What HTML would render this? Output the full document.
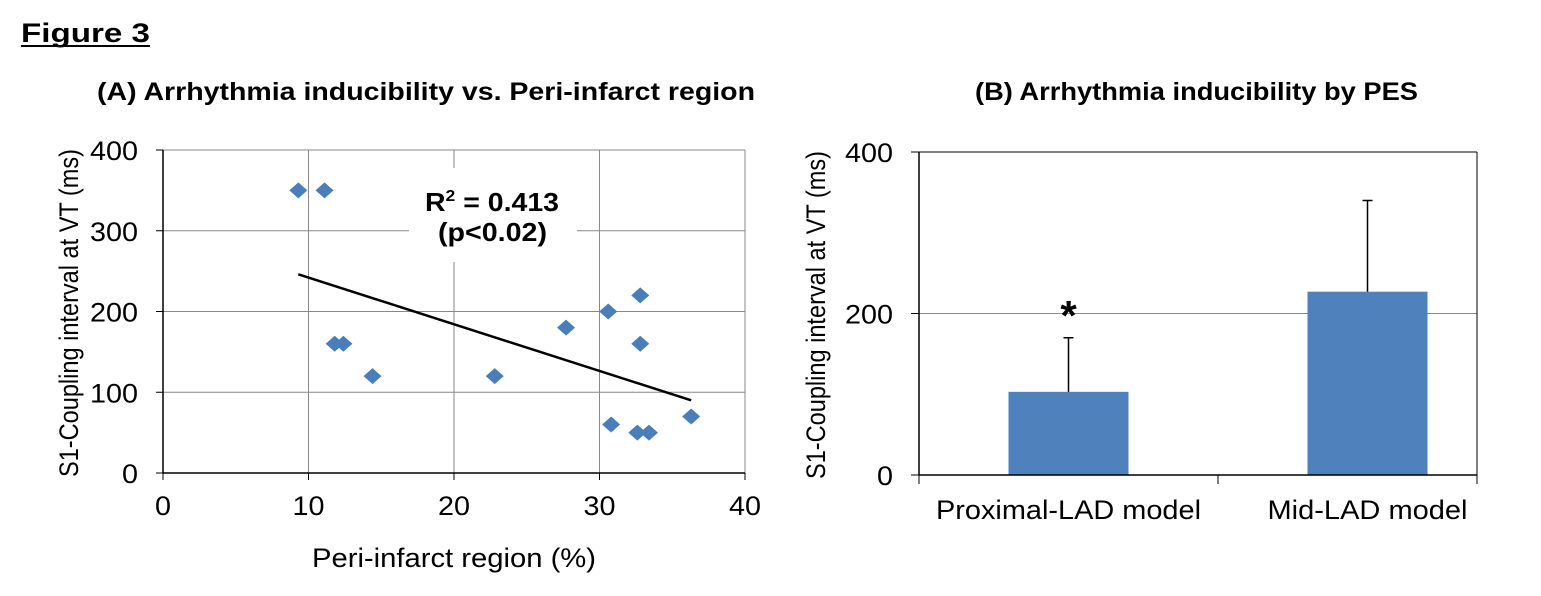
<!DOCTYPE html>
<html><head><meta charset="utf-8"><style>
body{margin:0;background:#fff;}
svg text{font-family:"Liberation Sans",Arial,sans-serif;}
</style></head><body>
<svg width="1541" height="591" xmlns="http://www.w3.org/2000/svg">
<text x="21" y="42" font-size="27" font-weight="bold" textLength="129" lengthAdjust="spacingAndGlyphs">Figure 3</text>
<line x1="21" y1="46" x2="150" y2="46" stroke="#000" stroke-width="2"/>
<text x="97" y="100" font-size="25" font-weight="bold" textLength="658" lengthAdjust="spacingAndGlyphs">(A) Arrhythmia  inducibility vs. Peri-infarct region</text>
<text x="975" y="100" font-size="25" font-weight="bold" textLength="443" lengthAdjust="spacingAndGlyphs">(B) Arrhythmia  inducibility by PES</text>
<g id="A"></g><g id="B"></g>
</svg>
<script>
const NS="http://www.w3.org/2000/svg";
function mk(p,t,a){const e=document.createElementNS(NS,t);for(const k in a)e.setAttribute(k,a[k]);p.appendChild(e);return e;}
// Chart A data
const scatterX=[9.3,11.1,11.8,12.4,14.4,22.8,27.7,30.6,32.8,32.8,30.8,32.6,33.4,36.3];
const scatterY=[350,350,160,160,120,120,180,200,220,160,60,50,50,70];
const trendX=[9.3,36.3];
const trendY=[246,90];
const xTicksA=[0,10,20,30,40];
const yTicksA=[0,100,200,300,400];
// Chart B data
const barCats=["Proximal-LAD model","Mid-LAD model"];
const barVals=[103,227];
const barErr=[67,113];
const yTicksB=[0,200,400];

const A=document.getElementById('A');
const ax=v=>163+v*(745-163)/40, ay=v=>473-v*(473-150)/400;
for(const t of xTicksA){
 if(t>0){const l=mk(A,'line',{x1:ax(t),x2:ax(t),y1:150,y2:473,stroke:'#888','stroke-width':1});
 }
 mk(A,'line',{x1:ax(t),x2:ax(t),y1:473,y2:480,stroke:'#000'});
 const s=String(t);
 const tx=mk(A,'text',{x:ax(t),y:515,'font-size':27,'text-anchor':'middle',textLength:s.length*16,lengthAdjust:'spacingAndGlyphs'});tx.textContent=s;
 
}
for(const t of yTicksA){
 if(t>0){const l=mk(A,'line',{x1:163,x2:745,y1:ay(t),y2:ay(t),stroke:'#888','stroke-width':1});
 }
 mk(A,'line',{x1:156,x2:163,y1:ay(t),y2:ay(t),stroke:'#000'});
 const s=String(t);
 const tx=mk(A,'text',{x:138,y:ay(t)+10,'font-size':27,'text-anchor':'end',textLength:s.length*16,lengthAdjust:'spacingAndGlyphs'});tx.textContent=s;
 
}
mk(A,'line',{x1:163,x2:163,y1:150,y2:473,stroke:'#000','stroke-width':1.5});
mk(A,'line',{x1:163,x2:745,y1:473,y2:473,stroke:'#000','stroke-width':1.5});
const tl=mk(A,'line',{x1:ax(trendX[0]),y1:ay(trendY[0]),x2:ax(trendX[1]),y2:ay(trendY[1]),stroke:'#000','stroke-width':2.5});

mk(A,'rect',{x:409,y:168,width:168,height:94,fill:'#fff'});
const r2=mk(A,'text',{x:425,y:211,'font-size':26,'font-weight':'bold',textLength:134,lengthAdjust:'spacingAndGlyphs'});
r2.innerHTML='R<tspan font-size="16" dy="-10">2</tspan><tspan dy="10"> = 0.413</tspan>';

const pv=mk(A,'text',{x:438,y:241,'font-size':26,'font-weight':'bold',textLength:109,lengthAdjust:'spacingAndGlyphs'});pv.textContent='(p<0.02)';

scatterX.forEach((x,i)=>{const cx=ax(x),cy=ay(scatterY[i]);
 const p=mk(A,'polygon',{points:`${cx},${cy-8} ${cx+9},${cy} ${cx},${cy+8} ${cx-9},${cy}`,fill:'#4a7ebb'});
 });
const xt=mk(A,'text',{x:312,y:567,'font-size':27,textLength:284,lengthAdjust:'spacingAndGlyphs'});xt.textContent='Peri-infarct region (%)';

const yt=mk(A,'text',{x:0,y:0,'font-size':27,'text-anchor':'middle',textLength:328,lengthAdjust:'spacingAndGlyphs',transform:'translate(78,313) rotate(-90)'});yt.textContent='S1-Coupling interval at VT (ms)';


const B=document.getElementById('B');
const bx0=919,bx1=1477,by=v=>475-v*(475-152)/400;
const band=299;
for(const t of yTicksB){
 if(t>0){const l=mk(B,'line',{x1:bx0,x2:bx1,y1:by(t),y2:by(t),stroke:'#888','stroke-width':1});
 }
 mk(B,'line',{x1:911,x2:bx0,y1:by(t),y2:by(t),stroke:'#000'});
 const s=String(t);
 const tx=mk(B,'text',{x:893,y:by(t)+10,'font-size':27,'text-anchor':'end',textLength:s.length*16,lengthAdjust:'spacingAndGlyphs'});tx.textContent=s;
 
}
mk(B,'line',{x1:bx1,x2:bx1,y1:152,y2:484,stroke:'#000','stroke-width':1});
mk(B,'line',{x1:bx0,x2:bx1,y1:152,y2:152,stroke:'#000','stroke-width':1});
mk(B,'line',{x1:bx0,x2:bx0,y1:475,y2:484,stroke:'#000'});
mk(B,'line',{x1:bx0+band,x2:bx0+band,y1:475,y2:484,stroke:'#000'});
const catW=[265,200];
barCats.forEach((c,i)=>{const cx=bx0+band*(i+0.5),w=120;
 const r=mk(B,'rect',{x:cx-w/2,y:by(barVals[i]),width:w,height:by(0)-by(barVals[i]),fill:'#4f81bd'});
 
 const ey=by(barVals[i]+barErr[i]);
 const e=mk(B,'path',{d:`M${cx},${by(barVals[i])}V${ey}M${cx-5},${ey}H${cx+5}`,stroke:'#000','stroke-width':1.5,fill:'none'});
 
 const t=mk(B,'text',{x:cx,y:519,'font-size':27,'text-anchor':'middle',textLength:catW[i],lengthAdjust:'spacingAndGlyphs'});t.textContent=c;
 
});
mk(B,'line',{x1:bx0,x2:bx0,y1:152,y2:475,stroke:'#000','stroke-width':1.5});
mk(B,'line',{x1:bx0,x2:bx1,y1:475,y2:475,stroke:'#000','stroke-width':1.5});
const st=mk(B,'text',{x:bx0+band*0.5,y:330,'font-size':42,'font-weight':'bold','text-anchor':'middle'});st.textContent='*';

const yb=mk(B,'text',{x:0,y:0,'font-size':27,'text-anchor':'middle',textLength:328,lengthAdjust:'spacingAndGlyphs',transform:'translate(825,315) rotate(-90)'});yb.textContent='S1-Coupling interval at VT (ms)';

</script>
</body></html>
